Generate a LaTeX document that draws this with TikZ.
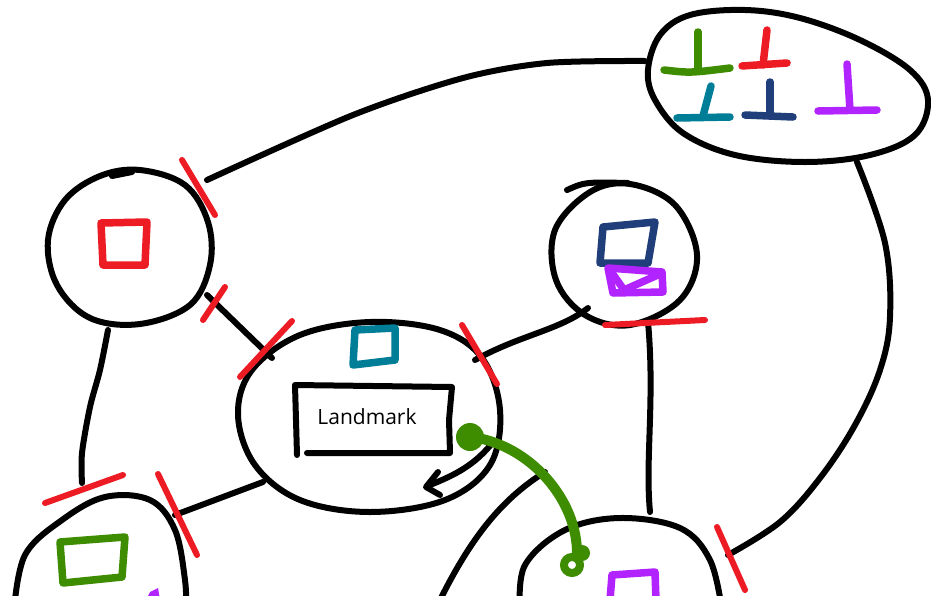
\documentclass[tikz,border=0pt]{standalone}
\usepackage{fontspec}
\newfontfamily\notefont{Open Sans}
\usetikzlibrary{arrows.meta,calc}
\definecolor{inkred}{RGB}{237,28,36}
\definecolor{inkgreen}{RGB}{62,140,0}
\definecolor{inkteal}{RGB}{0,126,152}
\definecolor{inknavy}{RGB}{32,62,122}
\definecolor{inkviolet}{RGB}{178,36,255}

\begin{document}
\begin{tikzpicture}[x=1pt,y=-1pt,
    pen/.style={black,line width=6pt,line cap=round,line join=round},
    cut/.style={inkred,line width=6pt,line cap=round},
    glyph/.style={line width=7.5pt,line cap=round,line join=round}]
  \useasboundingbox (0,0) rectangle (931,595);
  \clip (0,0) rectangle (931,595);

  % blobs (hand drawn outlines)
  \draw[pen] plot[smooth cycle,tension=0.6] coordinates {(648,70) (660,35) (690,15) (745,10) (800,18) (860,40) (910,70) (928,100) (915,135) (870,155) (805,162) (735,155) (683,133) (655,100)};
  \draw[pen] plot[smooth cycle,tension=0.6] coordinates {(140,170) (185,185) (208,222) (210,265) (190,305) (140,324) (90,318) (57,285) (48,240) (65,200) (100,176)};
  \draw[pen] (112,176) -- (132,172);
  \draw[pen] plot[smooth cycle,tension=0.6] coordinates {(300,335) (370,322) (440,330) (482,358) (500,410) (490,465) (445,500) (370,512) (300,500) (255,465) (238,415) (252,370)};
  \draw[pen] plot[smooth cycle,tension=0.6] coordinates {(590,192) (630,184) (675,205) (697,255) (680,300) (630,325) (585,315) (556,280) (555,230)};
  \draw[pen] (567,190) .. controls (585,182) .. (628,183);
  \draw[pen] plot[smooth,tension=0.6] coordinates {(520,610) (525,565) (565,530) (620,518) (680,528) (710,560) (722,610)};
  \draw[pen] plot[smooth,tension=0.6] coordinates {(14,610) (25,555) (62,520) (105,497) (150,500) (175,530) (185,580) (186,610)};

  % docking points
  \coordinate (tr-w) at (645,61);
  \coordinate (tr-s) at (857,162);
  \coordinate (lc-ne) at (207,180);
  \coordinate (lc-se) at (207,295);
  \coordinate (lc-s) at (108,330);
  \coordinate (lm-nw) at (272,358);
  \coordinate (lm-ne) at (475,360);
  \coordinate (lm-sw) at (263,482);
  \coordinate (rm-sw) at (588,308);
  \coordinate (rm-s) at (648,322);
  \coordinate (br-n) at (650,512);
  \coordinate (br-e) at (728,555);
  \coordinate (bl-n) at (82,483);
  \coordinate (bl-ne) at (175,515);
  \coordinate (gr-a) at (545,472);
  \coordinate (gr-b) at (440,600);

  % connectors
  \draw[pen] plot[smooth,tension=0.5] coordinates {(tr-w) (547,63) (463,78) (353,115) (lc-ne)};
  \draw[pen] (lc-se) -- (lm-nw);
  \draw[pen] (lm-ne) .. controls (520,335) and (560,330) .. (rm-sw);
  \draw[pen] plot[smooth,tension=0.5] coordinates {(lc-s) (100,370) (90,407) (82,453) (bl-n)};
  \draw[pen] (lm-sw) -- (bl-ne);
  \draw[pen] (rm-s) .. controls (655,400) and (645,460) .. (br-n);
  \draw[pen] plot[smooth,tension=0.6] coordinates {(tr-s) (885,243) (890,317) (880,370) (855,425) (820,478) (780,522) (br-e)};
  \draw[pen] (gr-a) .. controls (500,500) and (470,540) .. (gr-b);

  % cut marks
  \draw[cut] (182,160) -- (215,215);
  \draw[cut] (203,320) -- (225,287);
  \draw[cut] (240,377) -- (292,321);
  \draw[cut] (462,325) -- (497,384);
  \draw[cut] (605,325) -- (705,320);
  \draw[cut] (45,503) -- (123,475);
  \draw[cut] (158,474) -- (197,555);
  \draw[cut] (717,527) -- (745,590);

  % little squares
  \draw[glyph,inkred] (101,223) -- (147,222) -- (145,265) -- (103,265) -- cycle;
  \draw[glyph,inkteal] (355,330) -- (395,328) -- (395,360) -- (353,365) -- cycle;
  \draw[glyph,inknavy] (600,263) -- (603,227) -- (655,222) -- (648,263) -- cycle;
  \draw[glyph,inkviolet] (608,268) -- (662,272) -- (663,292) -- (613,293) -- cycle;
  \draw[glyph,inkviolet] (610,270) -- (624,290) -- (660,274);
  \draw[glyph,inkgreen] (60,542) -- (125,537) -- (122,577) -- (63,583) -- cycle;
  \draw[glyph,inkviolet] (610,600) -- (612,575) -- (655,572) -- (656,600);
  \fill[inkviolet] (150,592) -- (158,588) -- (160,600) -- (146,600) -- cycle;

  % landmark box
  \draw[pen] (297,455) -- (295,385) -- (452,387) -- (449,420) -- (450,453) -- (307,453);
  \node[font=\notefont\fontsize{21}{25}\selectfont] (landmark) at (367,417) {Landmark};
  \draw[pen] (493,442) .. controls (475,465) and (455,475) .. (430,485);
  \draw[pen] (438,472) -- (426,487) -- (440,495);

  % green link
  \draw[inkgreen,line width=10pt,line cap=round] (472,437) .. controls (530,445) and (578,500) .. (577,555);
  \fill[inkgreen] (470,437) circle (14);
  \draw[inkgreen,line width=8pt] (572,565) circle (8);
  \fill[inkgreen] (582,553) circle (8);

  % bar symbols
  \draw[glyph,inkgreen] (698,32) -- (698,70);
  \draw[glyph,inkgreen] (664,70) .. controls (690,73) .. (730,68);
  \draw[glyph,inkred] (767,30) -- (763,65);
  \draw[glyph,inkred] (742,66) -- (787,63);
  \draw[glyph,inkteal] (711,86) -- (703,116);
  \draw[glyph,inkteal] (677,118) -- (730,117);
  \draw[glyph,inknavy] (770,82) -- (770,115);
  \draw[glyph,inknavy] (745,115) -- (793,117);
  \draw[glyph,inkviolet] (847,64) -- (850,110);
  \draw[glyph,inkviolet] (818,111) -- (877,110);
\end{tikzpicture}
\end{document}
